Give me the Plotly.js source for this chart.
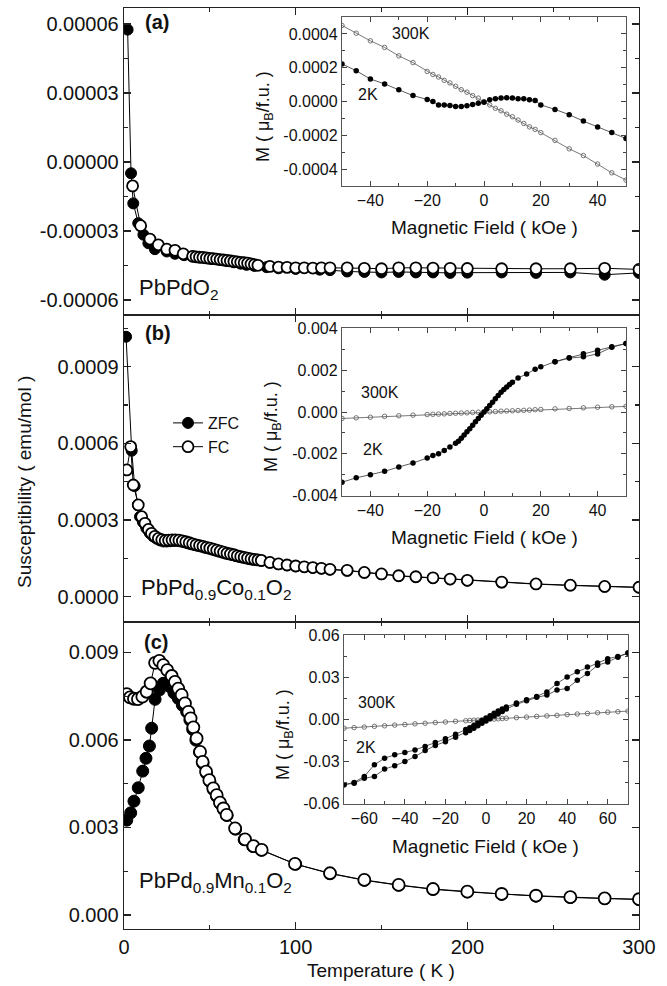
<!DOCTYPE html>
<html>
<head>
<meta charset="utf-8">
<script src="https://cdn.plot.ly/plotly-3.0.1.min.js"></script>
<style>html,body{margin:0;padding:0;background:#fff}#chart{width:667px;height:986px}</style>
</head>
<body>
<div id="chart"></div>
<script>
// ---------- Panel (a): PbPdO2 ----------
const aZfcT = [2.1, 4.1, 5.4, 8.3, 11.3, 14.2, 18, 24.9, 29.7, 35, 40, 43.3, 47, 51, 55.9, 60, 64, 68, 71.4, 76, 83, 90, 100, 114, 120, 130, 140, 150, 160, 170, 180, 190, 200, 220, 240, 260, 280, 300];
const aZfcV = [5.75e-5, -4.9e-6, -1.8e-5, -2.66e-5, -3.16e-5, -3.53e-5, -3.79e-5, -3.89e-5, -3.99e-5, -4.05e-5, -4.1e-5, -4.13e-5, -4.17e-5, -4.21e-5, -4.25e-5, -4.3e-5, -4.36e-5, -4.42e-5, -4.47e-5, -4.52e-5, -4.57e-5, -4.62e-5, -4.65e-5, -4.68e-5, -4.7e-5, -4.76e-5, -4.78e-5, -4.8e-5, -4.78e-5, -4.8e-5, -4.8e-5, -4.82e-5, -4.81e-5, -4.8e-5, -4.82e-5, -4.8e-5, -4.9e-5, -4.82e-5];
const aFcT = [5, 9.7, 15.1, 20, 24.9, 29.7, 34.5, 40, 42, 44, 46, 48, 50, 52, 54, 56, 58, 60, 62, 64, 66, 68, 70, 72, 74, 76, 78, 85, 90, 95, 100, 105, 110, 115, 120, 130, 140, 150, 160, 170, 180, 190, 200, 220, 240, 260, 280, 300];
const aFcV = [-1.04e-5, -2.77e-5, -3.35e-5, -3.6e-5, -3.79e-5, -3.84e-5, -3.99e-5, -4.1e-5, -4.12e-5, -4.14e-5, -4.15e-5, -4.17e-5, -4.19e-5, -4.2e-5, -4.22e-5, -4.24e-5, -4.26e-5, -4.28e-5, -4.3e-5, -4.32e-5, -4.34e-5, -4.36e-5, -4.38e-5, -4.4e-5, -4.43e-5, -4.46e-5, -4.49e-5, -4.54e-5, -4.57e-5, -4.58e-5, -4.6e-5, -4.6e-5, -4.61e-5, -4.6e-5, -4.6e-5, -4.6e-5, -4.62e-5, -4.64e-5, -4.6e-5, -4.6e-5, -4.61e-5, -4.62e-5, -4.63e-5, -4.64e-5, -4.64e-5, -4.64e-5, -4.62e-5, -4.67e-5];

// ---------- Panel (b): PbPd0.9Co0.1O2 ----------
const bZfcT = [1.2, 4.5, 6.2, 8.1, 9.3, 11, 13, 15, 17, 19, 21, 23, 25, 27, 29, 31, 33, 35, 37, 39, 41, 43, 45, 47, 49, 51, 53, 55, 57, 59, 61, 63, 65, 67, 69, 71, 73, 75, 77, 80, 85, 90, 95, 100, 105, 110, 115, 120, 130, 140, 150, 160, 170, 180, 190, 200, 220, 240, 260, 280, 300];
const bZfcV = [0.001017, 0.000571, 0.000433, 0.000359, 0.000313, 0.000292, 0.000268, 0.000249, 0.000236, 0.000227, 0.00022, 0.000216, 0.000216, 0.000217, 0.000218, 0.000218, 0.000216, 0.000213, 0.000209, 0.000205, 0.000202, 0.000199, 0.000196, 0.000192, 0.000189, 0.000185, 0.000181, 0.000177, 0.000173, 0.000169, 0.000166, 0.000163, 0.000159, 0.000156, 0.000153, 0.00015, 0.000147, 0.000145, 0.000143, 0.00014, 0.000133, 0.000127, 0.000123, 0.000119, 0.000116, 0.000113, 0.00011, 0.000106, 0.000102, 0.000094, 0.000088, 0.000081, 0.000077, 0.000073, 0.000068, 0.000063, 0.000056, 0.000049, 0.000044, 0.000039, 0.000036];
const bFcT = [1.6, 3.9, 5.4, 8.3, 10.3, 12.2, 14.2, 16, 18, 20, 22, 24, 26, 28, 30, 32, 34, 36, 38, 40, 42, 44, 46, 48, 50, 52, 54, 56, 58, 60, 62, 64, 66, 68, 70, 72, 74, 76, 78, 80, 85, 90, 95, 100, 105, 110, 115, 120, 130, 140, 150, 160, 170, 180, 190, 200, 220, 240, 260, 280, 300];
const bFcV = [0.000496, 0.000587, 0.000437, 0.000359, 0.000313, 0.000287, 0.000263, 0.000248, 0.000236, 0.000228, 0.000223, 0.00022, 0.000221, 0.000222, 0.000222, 0.000221, 0.000218, 0.000215, 0.000211, 0.000207, 0.000203, 0.0002, 0.000197, 0.000193, 0.00019, 0.000186, 0.000182, 0.000178, 0.000174, 0.00017, 0.000167, 0.000164, 0.00016, 0.000157, 0.000154, 0.000151, 0.000148, 0.000146, 0.000144, 0.000142, 0.000134, 0.000128, 0.000124, 0.00012, 0.000117, 0.000114, 0.000111, 0.000107, 0.000103, 0.000095, 0.000089, 0.000082, 0.000078, 0.000074, 0.000069, 0.000064, 0.000057, 0.00005, 0.000045, 0.00004, 0.000037];

// ---------- Panel (c): PbPd0.9Mn0.1O2 ----------
const cZfcT = [1.6, 3.9, 5.8, 8.3, 10.9, 12.8, 14.8, 16.1, 18.1, 20.6, 22.9, 24.9, 26.8, 29.1, 31.6, 34, 36.5, 38.4, 40, 41.9, 44, 46, 48, 50, 52, 54, 56, 58, 60, 65, 70, 75, 80, 100, 120, 140, 160, 180, 200, 220, 240, 260, 280, 300];
const cZfcV = [0.00325, 0.0035, 0.0039, 0.00436, 0.00493, 0.00537, 0.00579, 0.0064, 0.00739, 0.00771, 0.00794, 0.00796, 0.00782, 0.00761, 0.00742, 0.00719, 0.00696, 0.00668, 0.00636, 0.00599, 0.00558, 0.00519, 0.00485, 0.00457, 0.0043, 0.00406, 0.00382, 0.00361, 0.00341, 0.00294, 0.00258, 0.00235, 0.00222, 0.00174, 0.00142, 0.00119, 0.00102, 0.00088, 0.00079, 0.00071, 0.00065, 0.0006, 0.00056, 0.00053];
const cFcT = [1.6, 3.5, 5.8, 8.1, 10.7, 13.2, 15.5, 18.1, 20.6, 22.9, 25.2, 27.8, 29.7, 31.6, 33.6, 35.5, 37.5, 38.8, 40.4, 42.3, 44.3, 45.8, 47.8, 49.7, 52, 54, 55.9, 57.9, 59.8, 64.7, 70.5, 75.4, 80.2, 99.6, 120, 140, 160, 180, 200, 220, 240, 260, 280, 300];
const cFcV = [0.00757, 0.00746, 0.00741, 0.0074, 0.00748, 0.00765, 0.00794, 0.00864, 0.00871, 0.00856, 0.00839, 0.00819, 0.00799, 0.00776, 0.00754, 0.00725, 0.00696, 0.00674, 0.00643, 0.00605, 0.00559, 0.00525, 0.00491, 0.00462, 0.00434, 0.00411, 0.00385, 0.00365, 0.00343, 0.00297, 0.00259, 0.00236, 0.00223, 0.00175, 0.00143, 0.0012, 0.00103, 0.00089, 0.0008, 0.00072, 0.00066, 0.00061, 0.00057, 0.00054];

// ---------- Inset (a) M(H) ----------
const ia300H = [-50, -45, -40, -35, -30, -25, -20, -18, -16, -14, -12, -10, -8, -6, -4, -2, 0, 2, 4, 6, 8, 10, 12, 14, 16, 18, 20, 25, 30, 35, 40, 45, 50];
const ia300M = [0.00045, 0.000404, 0.000359, 0.00032, 0.00027, 0.00023, 0.000178, 0.00016, 0.000145, 0.000125, 0.00011, 0.00009, 0.00007, 0.000055, 0.000035, 0.00002, 0, -0.00002, -0.00004, -0.000055, -0.000075, -0.00009, -0.00011, -0.00013, -0.00015, -0.000165, -0.000184, -0.00023, -0.00028, -0.00032, -0.00037, -0.000422, -0.000465];
const ia2H = [-50, -45, -40, -35, -30, -25, -20, -18, -16, -14, -12, -10, -8, -6, -4, -2, 0, 2, 4, 6, 8, 10, 12, 14, 16, 18, 20, 25, 30, 35, 40, 45, 50];
const ia2M = [0.000222, 0.000182, 0.000133, 0.000104, 0.000069, 0.000035, 0.000012, 0, -0.00002, -0.00002, -0.000024, -0.000029, -0.000029, -0.000025, -0.000018, -0.00001, -0.000004, 0.00001, 0.000016, 0.00002, 0.000022, 0.00002, 0.000016, 0.000016, 0.00001, 0.000006, -0.00002, -0.000047, -0.000078, -0.000116, -0.000151, -0.000184, -0.000219];

// ---------- Inset (b) M(H) ----------
const ib300H = [-50, -45, -40, -35, -30, -25, -20, -18, -16, -14, -12, -10, -8, -6, -4, -2, 0, 2, 4, 6, 8, 10, 12, 14, 16, 18, 20, 25, 30, 35, 40, 45, 50];
const ib300M = [-0.00031, -0.00028, -0.00025, -0.00021, -0.00018, -0.00015, -0.00012, -0.00011, -0.0001, -0.00009, -0.00007, -0.00006, -0.00005, -0.00004, -0.00002, -0.00001, 0, 0.00001, 0.00002, 0.00004, 0.00005, 0.00006, 0.00007, 0.00008, 0.00009, 0.00011, 0.00012, 0.00015, 0.00017, 0.0002, 0.00023, 0.00025, 0.00027];
const ib2H = [-50, -45, -40, -35, -30, -25, -20, -18, -16, -14, -12, -10, -9, -8, -7, -6, -5, -4, -3, -2, -1, 0, 1, 2, 3, 4, 5, 6, 7, 8, 9, 10, 12, 15, 18, 20, 25, 30, 35, 40, 45, 50];
const ib2M = [-0.00336, -0.00315, -0.003, -0.00284, -0.00263, -0.00244, -0.0022, -0.00208, -0.002, -0.00184, -0.00168, -0.0015, -0.0014, -0.00126, -0.0011, -0.00095, -0.0008, -0.00063, -0.00047, -0.00031, -0.00016, 0, 0.00016, 0.00031, 0.00047, 0.00063, 0.00079, 0.00094, 0.00108, 0.0012, 0.00132, 0.00142, 0.00163, 0.00182, 0.00205, 0.00216, 0.00241, 0.0026, 0.00279, 0.00295, 0.00312, 0.00328];
const ib2RetH = [50, 45, 40, 35, 30, 25];
const ib2RetM = [0.00328, 0.0031, 0.00278, 0.00264, 0.00258, 0.0024];

// ---------- Inset (c) M(H) ----------
const ic300H = [-70, -65, -60, -55, -50, -45, -40, -35, -30, -25, -20, -15, -10, -8, -6, -4, -2, 0, 2, 4, 6, 8, 10, 15, 20, 25, 30, 35, 40, 45, 50, 55, 60, 65, 70];
const ic300M = [-0.0062, -0.0058, -0.0054, -0.0049, -0.0045, -0.004, -0.0036, -0.0031, -0.0027, -0.0022, -0.0018, -0.0013, -0.0009, -0.0007, -0.0005, -0.0004, -0.0002, 0, 0.0002, 0.0003, 0.0005, 0.0007, 0.0009, 0.0013, 0.0017, 0.0022, 0.0026, 0.003, 0.0035, 0.0039, 0.0043, 0.0048, 0.0052, 0.0056, 0.006];
const ic2DownH = [70, 65, 60, 55, 50, 45, 40, 35, 30, 25, 20, 15, 10, 8, 6, 4, 2, 0, -2, -4, -6, -8, -10, -15, -20, -25, -30, -35, -40, -45, -50, -55, -60, -65, -70];
const ic2DownM = [0.0474, 0.045, 0.0434, 0.0403, 0.0375, 0.034, 0.0304, 0.0257, 0.0197, 0.0165, 0.0141, 0.0118, 0.009, 0.0075, 0.006, 0.0044, 0.0026, 0.001, -0.0008, -0.0025, -0.0042, -0.0058, -0.0072, -0.0105, -0.0138, -0.0165, -0.0193, -0.0217, -0.0236, -0.0252, -0.0276, -0.0323, -0.0406, -0.0449, -0.0465];
const ic2UpH = [-70, -65, -60, -55, -50, -45, -40, -35, -30, -25, -20, -15, -10, -8, -6, -4, -2, 0, 2, 4, 6, 8, 10, 15, 20, 25, 30, 35, 40, 45, 50, 55, 60, 65, 70];
const ic2UpM = [-0.0465, -0.0455, -0.042, -0.0406, -0.0354, -0.033, -0.03, -0.0264, -0.0222, -0.0185, -0.0158, -0.0127, -0.0095, -0.0078, -0.0062, -0.0045, -0.0027, -0.001, 0.0008, 0.0025, 0.0041, 0.0057, 0.0075, 0.0108, 0.0133, 0.0158, 0.0174, 0.021, 0.0222, 0.028, 0.0328, 0.0387, 0.041, 0.0445, 0.0474];

// ---------- Tick labels ----------
const aTickVals = [-0.00006, -0.00003, 0, 0.00003, 0.00006];
const aTickText = ['-0.00006', '-0.00003', '0.00000', '0.00003', '0.00006'];
const bTickVals = [0, 0.0003, 0.0006, 0.0009];
const bTickText = ['0.0000', '0.0003', '0.0006', '0.0009'];
const cTickVals = [0, 0.003, 0.006, 0.009];
const cTickText = ['0.000', '0.003', '0.006', '0.009'];
const iaTickVals = [-0.0004, -0.0002, 0, 0.0002, 0.0004];
const iaTickText = ['-0.0004', '-0.0002', '0.0000', '0.0002', '0.0004'];
const ibTickVals = [-0.004, -0.002, 0, 0.002, 0.004];
const ibTickText = ['-0.004', '-0.002', '0.000', '0.002', '0.004'];
const icTickVals = [-0.06, -0.03, 0, 0.03, 0.06];
const icTickText = ['-0.06', '-0.03', '0.00', '0.03', '0.06'];

const FONT = 'Liberation Sans, Arial, Helvetica, sans-serif';
const W = 667, H = 986;
const px = v => v / W;
const py = v => 1 - v / H;

function zfc(x, y, xa, ya, size, show) {
  return {x: x, y: y, xaxis: xa, yaxis: ya, type: 'scatter', mode: 'lines+markers', name: 'ZFC',
    showlegend: !!show, legendrank: 1,
    line: {color: '#000', width: 1},
    marker: {symbol: 'circle', size: size, color: '#000', line: {color: '#000', width: 1}}};
}
function fc(x, y, xa, ya, size, show) {
  return {x: x, y: y, xaxis: xa, yaxis: ya, type: 'scatter', mode: 'lines+markers', name: 'FC',
    showlegend: !!show, legendrank: 2,
    line: {color: '#000', width: 1},
    marker: {symbol: 'circle', size: size, color: '#fff', line: {color: '#000', width: 1.8}}};
}
function ins2(x, y, xa, ya) {
  return {x: x, y: y, xaxis: xa, yaxis: ya, type: 'scatter', mode: 'lines+markers', showlegend: false,
    line: {color: '#333', width: 0.8},
    marker: {symbol: 'circle', size: 5.5, color: '#000'}};
}
function ins300(x, y, xa, ya) {
  return {x: x, y: y, xaxis: xa, yaxis: ya, type: 'scatter', mode: 'lines+markers', showlegend: false,
    line: {color: '#555', width: 0.8},
    marker: {symbol: 'circle-open', size: 4.5, color: '#555', line: {width: 0.8}}};
}

const data = [
  zfc(aZfcT, aZfcV, 'x', 'y', 11, false), fc(aFcT, aFcV, 'x', 'y', 11, false),
  zfc(bZfcT, bZfcV, 'x2', 'y2', 11, true), fc(bFcT, bFcV, 'x2', 'y2', 11, true),
  zfc(cZfcT, cZfcV, 'x3', 'y3', 12, false), fc(cFcT, cFcV, 'x3', 'y3', 12, false),
  ins300(ia300H, ia300M, 'x4', 'y4'), ins2(ia2H, ia2M, 'x4', 'y4'),
  ins300(ib300H, ib300M, 'x5', 'y5'), ins2(ib2H, ib2M, 'x5', 'y5'), ins2(ib2RetH, ib2RetM, 'x5', 'y5'),
  ins300(ic300H, ic300M, 'x6', 'y6'), ins2(ic2DownH, ic2DownM, 'x6', 'y6'), ins2(ic2UpH, ic2UpM, 'x6', 'y6')
];

const mainX = (anchor, labels) => ({
  domain: [px(124), px(639)], range: [0, 300], anchor: anchor,
  showticklabels: labels, tickmode: 'linear', tick0: 0, dtick: 100,
  ticks: 'inside', ticklen: 7, tickwidth: 1.3, tickcolor: '#222',
  minor: {dtick: 50, ticks: 'inside', ticklen: 4, tickwidth: 1.2, tickcolor: '#222'},
  showline: true, linecolor: '#222', linewidth: 1.3, mirror: 'allticks',
  showgrid: false, zeroline: false, tickfont: {family: FONT, size: 20, color: '#111'}
});
const mainY = (anchor, dom, rng, tv, tt, minorD) => ({
  domain: dom, range: rng, anchor: anchor,
  tickmode: 'array', tickvals: tv, ticktext: tt,
  ticks: 'inside', ticklen: 7, tickwidth: 1.3, tickcolor: '#222',
  minor: {dtick: minorD, tick0: 0, ticks: 'inside', ticklen: 4, tickwidth: 1.2, tickcolor: '#222'},
  showline: true, linecolor: '#222', linewidth: 1.3, mirror: 'allticks',
  showgrid: false, zeroline: false, tickfont: {family: FONT, size: 20, color: '#111'}
});
const insX = (anchor, dom, rng) => ({
  domain: dom, range: rng, anchor: anchor, tickmode: 'linear', tick0: 0, dtick: 20,
  ticks: 'inside', ticklen: 5, tickwidth: 1, tickcolor: '#444',
  minor: {dtick: 10, ticks: 'inside', ticklen: 3, tickwidth: 1, tickcolor: '#444'},
  showline: true, linecolor: '#555', linewidth: 1.2, mirror: 'allticks',
  showgrid: false, zeroline: false, tickfont: {family: FONT, size: 16, color: '#111'}
});
const insY = (anchor, dom, rng, tv, tt, minorD) => ({
  domain: dom, range: rng, anchor: anchor, tickmode: 'array', tickvals: tv, ticktext: tt,
  ticks: 'inside', ticklen: 5, tickwidth: 1, tickcolor: '#444',
  minor: {dtick: minorD, tick0: 0, ticks: 'inside', ticklen: 3, tickwidth: 1, tickcolor: '#444'},
  showline: true, linecolor: '#555', linewidth: 1.2, mirror: 'allticks',
  showgrid: false, zeroline: false, tickfont: {family: FONT, size: 16, color: '#111'}
});

function ann(text, x, y, size, opts) {
  return Object.assign({text: text, xref: 'paper', yref: 'paper', x: px(x), y: py(y),
    showarrow: false, xanchor: 'center', yanchor: 'middle',
    font: {family: FONT, size: size, color: '#111'}}, opts || {});
}

const annotations = [
  ann('<b>(a)</b>', 143, 22, 20, {xanchor: 'left'}),
  ann('<b>(b)</b>', 143, 333, 20, {xanchor: 'left'}),
  ann('<b>(c)</b>', 142, 642, 20, {xanchor: 'left'}),
  ann('PbPdO<sub>2</sub>', 137, 289, 22, {xanchor: 'left'}),
  ann('PbPd<sub>0.9</sub>Co<sub>0.1</sub>O<sub>2</sub>', 139, 589, 22, {xanchor: 'left'}),
  ann('PbPd<sub>0.9</sub>Mn<sub>0.1</sub>O<sub>2</sub>', 137, 882, 22, {xanchor: 'left'}),
  ann('300K', 411, 33, 16), ann('2K', 368, 95, 16),
  ann('300K', 380, 392, 16), ann('2K', 373, 449, 16),
  ann('300K', 377, 702, 16), ann('2K', 366, 747, 16),
  ann('Magnetic Field ( kOe )', 484, 227, 19),
  ann('Magnetic Field ( kOe )', 484, 537, 19),
  ann('Magnetic Field ( kOe )', 486, 846, 19),
  ann('M ( μ<sub>B</sub>/f.u. )', 264, 117, 18, {textangle: -90}),
  ann('M ( μ<sub>B</sub>/f.u. )', 273, 427, 18, {textangle: -90}),
  ann('M ( μ<sub>B</sub>/f.u. )', 284, 735, 18, {textangle: -90}),
  ann('Susceptibility ( emu/mol )', 24, 482, 19, {textangle: -90}),
  ann('Temperature ( K )', 381, 970, 19)
];

const layout = {
  width: W, height: H, margin: {l: 0, r: 0, t: 0, b: 0},
  paper_bgcolor: '#fff', plot_bgcolor: '#fff',
  font: {family: FONT, color: '#111'},
  showlegend: true,
  legend: {x: px(168), y: py(406), xanchor: 'left', yanchor: 'top', bgcolor: 'rgba(0,0,0,0)',
    borderwidth: 0, font: {family: FONT, size: 16, color: '#111'}, tracegroupgap: 0, itemsizing: 'trace'},
  xaxis: mainX('y', false), xaxis2: mainX('y2', false), xaxis3: mainX('y3', true),
  yaxis: mainY('x', [1 - 315 / H, 1 - 8 / H], [-6.65e-5, 6.69e-5], aTickVals, aTickText, 0.000015),
  yaxis2: mainY('x2', [1 - 622 / H, 1 - 315 / H], [-0.000099, 0.001102], bTickVals, bTickText, 0.00015),
  yaxis3: mainY('x3', [1 - 929 / H, 1 - 622 / H], [-0.00048, 0.01004], cTickVals, cTickText, 0.0015),
  xaxis4: insX('y4', [px(342), px(626)], [-50, 50]),
  yaxis4: insY('x4', [1 - 186 / H, 1 - 17 / H], [-0.0005, 0.0005], iaTickVals, iaTickText, 0.0001),
  xaxis5: insX('y5', [px(342), px(626)], [-50, 50]),
  yaxis5: insY('x5', [1 - 496 / H, 1 - 328 / H], [-0.00402, 0.00402], ibTickVals, ibTickText, 0.001),
  xaxis6: insX('y6', [px(344), px(628)], [-70, 70]),
  yaxis6: insY('x6', [1 - 804 / H, 1 - 635 / H], [-0.0603, 0.0603], icTickVals, icTickText, 0.015),
  annotations: annotations
};

Plotly.newPlot('chart', data, layout, {displayModeBar: false, staticPlot: true});
</script>
</body>
</html>
